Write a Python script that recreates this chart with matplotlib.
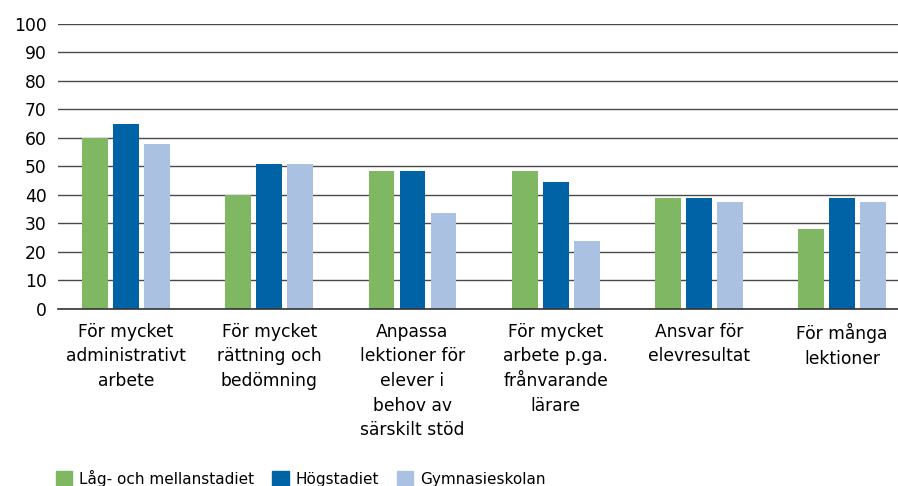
import numpy as np
import matplotlib
matplotlib.use("Agg")
import matplotlib.pyplot as plt
from matplotlib.patches import Patch

# ---------- Data ----------
categories = [
    "För mycket\nadministrativt\narbete",
    "För mycket\nrättning och\nbedömning",
    "Anpassa\nlektioner för\nelever i\nbehov av\nsärskilt stöd",
    "För mycket\narbete p.ga.\nfrånvarande\nlärare",
    "Ansvar för\nelevresultat",
    "För många\nlektioner",
]
series_names = ["Låg- och mellanstadiet", "Högstadiet", "Gymnasieskolan"]
lag_mellan = [60, 40, 48.5, 48.5, 39, 28]
hogstadiet = [65, 51, 48.5, 44.5, 39, 39]
gymnasiet = [58, 51, 33.5, 24, 37.5, 37.5]
yticks = list(range(0, 101, 10))

colors = ["#7fb762", "#0063a6", "#abc1e1"]

plt.rcParams["font.family"] = ["DejaVu Sans"]
fs = 12.3

fig = plt.figure(figsize=(8.98, 4.86), dpi=100)
W, H = 898, 486
left, right = 57.7, 898
top, bottom = 23.8, 309
ax = fig.add_axes([left / W, 1 - bottom / H, (right - left) / W, (bottom - top) / H])

x = np.arange(len(categories))
width = 0.18
step = 0.216
for i, (vals, name) in enumerate(zip([lag_mellan, hogstadiet, gymnasiet], series_names)):
    ax.bar(x + (i - 1) * step, vals, width, color=colors[i], label=name, zorder=3)

ax.set_ylim(0, 100)
ax.set_xlim(-0.477, 5.39)
ax.set_yticks(yticks)
ax.set_yticklabels([str(v) for v in yticks], fontsize=fs)
ax.yaxis.grid(True, color="#4a4a4a", linewidth=1.0, zorder=0)
ax.tick_params(axis="y", length=0, pad=8)
ax.set_xticks(x)
ax.set_xticklabels(categories, fontsize=fs, linespacing=1.47, va="top")
ax.tick_params(axis="x", length=0, pad=10)
for s in ["top", "right", "left"]:
    ax.spines[s].set_visible(False)
ax.spines["bottom"].set_color("#333333")
ax.spines["bottom"].set_linewidth(1.2)
ax.spines["bottom"].set_zorder(4)

handles = [Patch(color=c) for c in colors]
fig.legend(handles, series_names, loc="lower left", bbox_to_anchor=(50 / W, -0.014),
           ncol=3, frameon=False, fontsize=11, handlelength=1.05, handleheight=1.05,
           handletextpad=0.45, columnspacing=1.2, borderaxespad=0)

fig.savefig("out.png", dpi=100)
